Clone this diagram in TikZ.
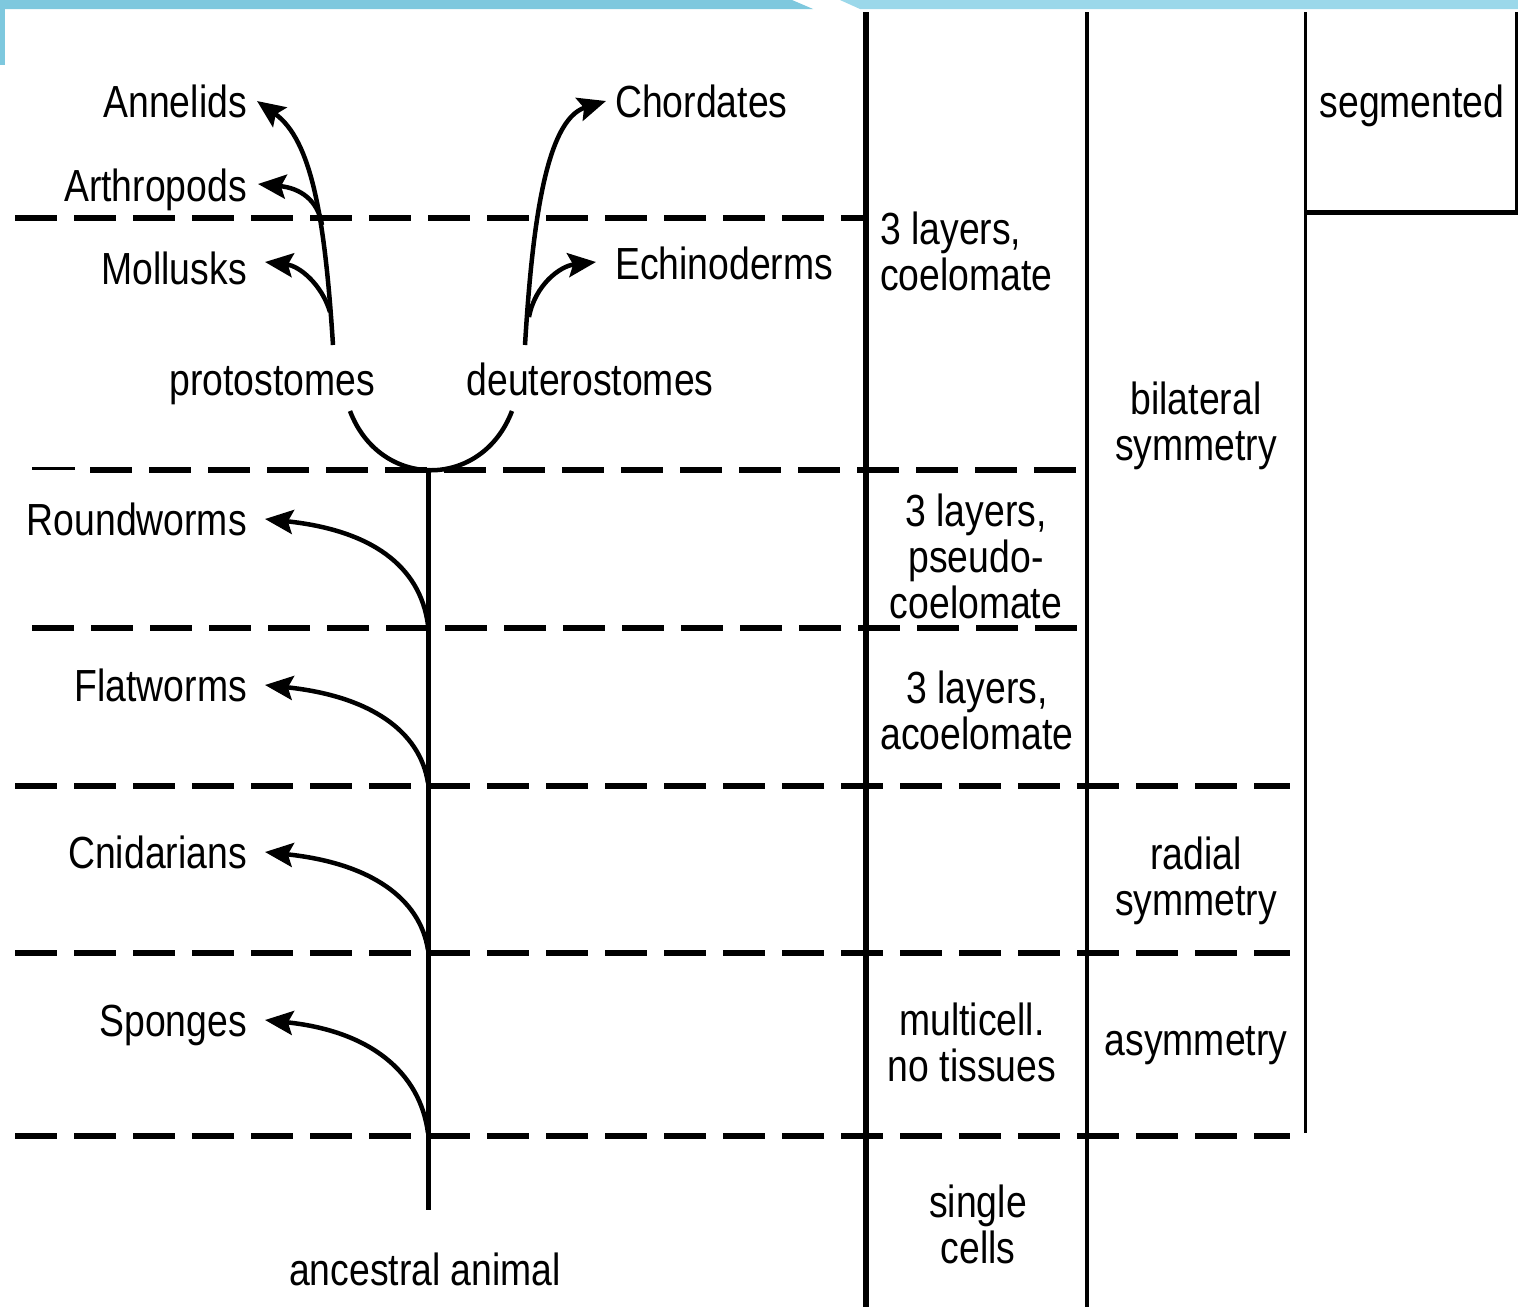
\documentclass[tikz,border=0pt]{standalone}
\usepackage{fontspec}
\setmainfont{Liberation Sans}[FakeStretch=0.83]
\usetikzlibrary{arrows.meta}
\definecolor{bandA}{RGB}{126,200,222}
\definecolor{bandB}{RGB}{155,216,234}
\begin{document}
\begin{tikzpicture}[x=1pt,y=-1pt,
  lbl/.style={inner sep=0pt, font=\fontsize{45}{46}\selectfont},
  mlbl/.style={lbl, align=center},
  dsh/.style={line width=5.5pt, dash pattern=on 42pt off 17pt},
  arr/.style={line width=4.5pt, -{Stealth[length=28pt,width=24pt,inset=5pt]}},
  stem/.style={line width=4.5pt},
]
\useasboundingbox (0,0) rectangle (1518,1307);
\fill[white] (0,0) rectangle (1518,1307);
% decoration band
\fill[bandA] (0,0) -- (792,0) -- (813,9) -- (0,9) -- cycle;
\fill[bandB] (840,0) -- (1518,0) -- (1518,9) -- (860,9) -- cycle;
\fill[bandA] (0,0) rectangle (5,65);

% solid table lines
\draw[line width=5.5pt] (866,12) -- (866,1307);
\draw[line width=3.5pt] (1087,12) -- (1087,1307);
\draw[line width=3pt] (1305,12) -- (1305,1133);
\draw[line width=3pt] (1516,12) -- (1516,212);
\draw[line width=5pt] (1305,212) -- (1518,212);

% dashed lines
\draw[dsh] (15,218) -- (866,218);
\draw[line width=3pt] (32,468) -- (75,468);
\draw[dsh] (90,470) -- (1085,470);
\draw[dsh] (32,628) -- (1085,628);
\draw[dsh] (15,786) -- (1290,786);
\draw[dsh] (15,953) -- (1290,953);
\draw[dsh] (15,1136) -- (1290,1136);

% trunk
\coordinate (trunkTop) at (428,470);
\coordinate (trunkBot) at (428,1210);
\draw[line width=5pt] (trunkTop) -- (trunkBot);

% labels (left tree)
\node[lbl, anchor=base east] (annelids) at (247,117) {Annelids};
\node[lbl, anchor=base east] (arthropods) at (247,201) {Arthropods};
\node[lbl, anchor=base east] (mollusks) at (247,284) {Mollusks};
\node[lbl, anchor=base west] (chordates) at (615,117) {Chordates};
\node[lbl, anchor=base west] (echino) at (615,279) {Echinoderms};
\node[lbl, anchor=base] (proto) at (272,395) {protostomes};
\node[lbl, anchor=base] (deutero) at (590,395) {deuterostomes};
\node[lbl, anchor=base east] (round) at (247,535) {Roundworms};
\node[lbl, anchor=base east] (flat) at (247,701) {Flatworms};
\node[lbl, anchor=base east] (cnid) at (247,868) {Cnidarians};
\node[lbl, anchor=base east] (spong) at (247,1036) {Sponges};
\node[lbl, anchor=base] (ancestor) at (425,1285) {ancestral animal};

% table labels (base = last line)
\node[mlbl, align=left, anchor=base west] (coel) at (880,290) {3 layers,\\coelomate};
\node[mlbl, anchor=base] (pseudo) at (976,618) {3 layers,\\pseudo-\\coelomate};
\node[mlbl, anchor=base] (acoel) at (977,749) {3 layers,\\acoelomate};
\node[mlbl, anchor=base] (multi) at (972,1081) {multicell.\\no tissues};
\node[mlbl, anchor=base] (single) at (978,1263) {single\\cells};
\node[mlbl, anchor=base] (bilat) at (1196,460) {bilateral\\symmetry};
\node[mlbl, anchor=base] (radial) at (1196,915) {radial\\symmetry};
\node[lbl, anchor=base] (asym) at (1196,1055) {asymmetry};
\node[lbl, anchor=base] (segm) at (1412,117) {segmented};

% coordinates for connectors
\coordinate (pBase) at (333,345);
\coordinate (dBase) at (525,345);
\coordinate (annT) at (257,101);
\coordinate (arthS) at (322,225);
\coordinate (arthT) at (258,184);
\coordinate (molS) at (330,312);
\coordinate (molT) at (265,262);
\coordinate (chorT) at (606,101);
\coordinate (echS) at (529,317);
\coordinate (echT) at (596,262);
\coordinate (cupL) at (350,411);
\coordinate (cupR) at (512,411);
\coordinate (rwS) at (428,625);  \coordinate (rwT) at (265,519);
\coordinate (fwS) at (428,783);  \coordinate (fwT) at (265,685);
\coordinate (cnS) at (428,950);  \coordinate (cnT) at (265,852);
\coordinate (spS) at (428,1133); \coordinate (spT) at (265,1020);

% protostome / deuterostome branches
\draw[arr] (pBase) .. controls (325,220) and (312,140) .. (annT);
\draw[arr] (arthS) .. controls (318,200) and (300,188) .. (arthT);
\draw[arr] (molS) .. controls (322,285) and (300,266) .. (molT);
\draw[arr] (dBase) .. controls (532,230) and (545,120) .. (chorT);
\draw[arr] (echS) .. controls (535,285) and (560,266) .. (echT);
\draw[stem] (cupL) .. controls (380,490) and (482,490) .. (cupR);

% trunk branches
\draw[arr] (rwS) .. controls (420,565) and (370,530) .. (rwT);
\draw[arr] (fwS) .. controls (420,731) and (370,696) .. (fwT);
\draw[arr] (cnS) .. controls (420,898) and (370,863) .. (cnT);
\draw[arr] (spS) .. controls (420,1072) and (370,1031) .. (spT);
\end{tikzpicture}
\end{document}
